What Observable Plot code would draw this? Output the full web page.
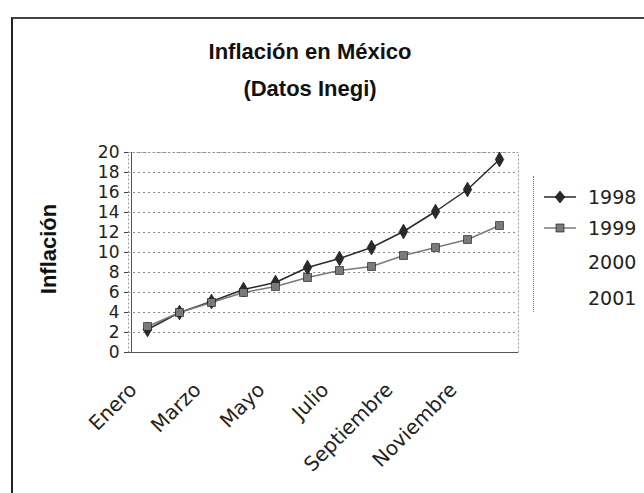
<!DOCTYPE html>
<html>
<head>
<meta charset="utf-8">
<script src="https://cdn.jsdelivr.net/npm/d3@7"></script>
<script src="https://cdn.jsdelivr.net/npm/@observablehq/plot@0.6"></script>
<style>
  html, body { margin:0; padding:0; background:#fff; }
  #wrap { position:relative; width:644px; height:493px; overflow:hidden; background:#fff; font-family:"Liberation Sans", Arial, sans-serif; }
  #frame { position:absolute; left:11px; top:17px; width:640px; height:480px; border-left:2px solid #222; border-top:2px solid #444; }
  #chart { position:absolute; left:0; top:0; }
  #title { position:absolute; left:110px; width:400px; top:33px; text-align:center; font-weight:bold; font-size:22px; line-height:37px; color:#111; }
  #ylab { position:absolute; left:49px; top:249px; transform:translate(-50%,-50%) rotate(-90deg); font-weight:bold; font-size:22px; color:#111; white-space:nowrap; }
  #legend { position:absolute; left:533px; top:176px; width:120px; height:136px; border-left:1px dotted #777; }
  .item { position:absolute; left:8px; height:20px; display:flex; align-items:center; font-family:"DejaVu Sans", sans-serif; font-size:19px; color:#222; }
  .item svg { margin-right:10px; }
</style>
</head>
<body>
<div id="wrap">
  <div id="frame"></div>
  <div id="chart"></div>
  <div id="title">Inflación en México<br>(Datos Inegi)</div>
  <div id="ylab">Inflación</div>
  <div id="legend"></div>
</div>
<script>
const months = ["Enero","Febrero","Marzo","Abril","Mayo","Junio","Julio","Agosto","Septiembre","Octubre","Noviembre","Diciembre"];
const labelMonths = ["Enero","Marzo","Mayo","Julio","Septiembre","Noviembre"];
const years = ["1998","1999","2000","2001"];
const v1998 = [2.3,4.0,5.1,6.3,7.0,8.5,9.4,10.5,12.1,14.1,16.3,19.3];
const v1999 = [2.6,4.0,5.0,6.0,6.6,7.5,8.2,8.6,9.7,10.5,11.3,12.7];
const yTicks = [0,2,4,6,8,10,12,14,16,18,20];
const colors = {"1998":"#2a2a2a","1999":"#7a7a7a"};
const symbols = {"1998":"diamond","1999":"square"};

const data = [];
months.forEach((m,i)=>{
  data.push({month:m, value:v1998[i], year:"1998"});
  data.push({month:m, value:v1999[i], year:"1999"});
});

const chart = Plot.plot({
  width:644, height:493,
  marginLeft:128, marginRight:126, marginTop:152, marginBottom:141,
  style:{fontFamily:"'DejaVu Sans', sans-serif", background:"transparent", color:"#222"},
  x:{type:"point", domain:months, padding:0.5, label:null},
  y:{domain:[0,20], label:null},
  marks:[
    Plot.gridY(yTicks, {stroke:"#888", strokeOpacity:1, strokeDasharray:"2,3"}),
    Plot.frame({stroke:"#999", strokeDasharray:"2,2"}),
    Plot.axisY({ticks:yTicks, tickSize:4, tickPadding:5, fontSize:17, label:null, stroke:"#444"}),
    Plot.axisX({ticks:labelMonths, tickSize:0, tickRotate:-45, fontSize:20, tickPadding:29, dx:-14, dy:5, label:null}),
    Plot.ruleY([0], {stroke:"#555"}),
    Plot.ruleX([months[0]], {stroke:"#555", dx:-16}),
    Plot.line(data, {x:"month", y:"value", z:"year", stroke:d=>colors[d.year], strokeWidth:1.5}),
    Plot.dot(data, {x:"month", y:"value", symbol:d=>symbols[d.year], fill:d=>colors[d.year], stroke:"#111", strokeWidth:0.6, r:4.5})
  ]
});
document.getElementById("chart").appendChild(chart);

const legend = document.getElementById("legend");
const tops = [11, 42, 76, 112];
years.forEach((y,i)=>{
  const div = document.createElement("div");
  div.className = "item";
  div.style.top = tops[i] + "px";
  let inner = "";
  if (colors[y]) {
    const mark = symbols[y] === "diamond"
      ? `<path d="M18,4 L23,10 L18,16 L13,10 Z" fill="${colors[y]}" stroke="#111" stroke-width="0.6"/>`
      : `<rect x="14" y="6" width="8" height="8" fill="${colors[y]}" stroke="#111" stroke-width="0.6"/>`;
    inner = `<svg width="36" height="20"><line x1="2" y1="10" x2="34" y2="10" stroke="${colors[y]}" stroke-width="1.5"/>${mark}</svg>`;
  } else {
    inner = `<svg width="36" height="20"></svg>`;
  }
  div.innerHTML = inner + `<span>${y}</span>`;
  legend.appendChild(div);
});
</script>
</body>
</html>
